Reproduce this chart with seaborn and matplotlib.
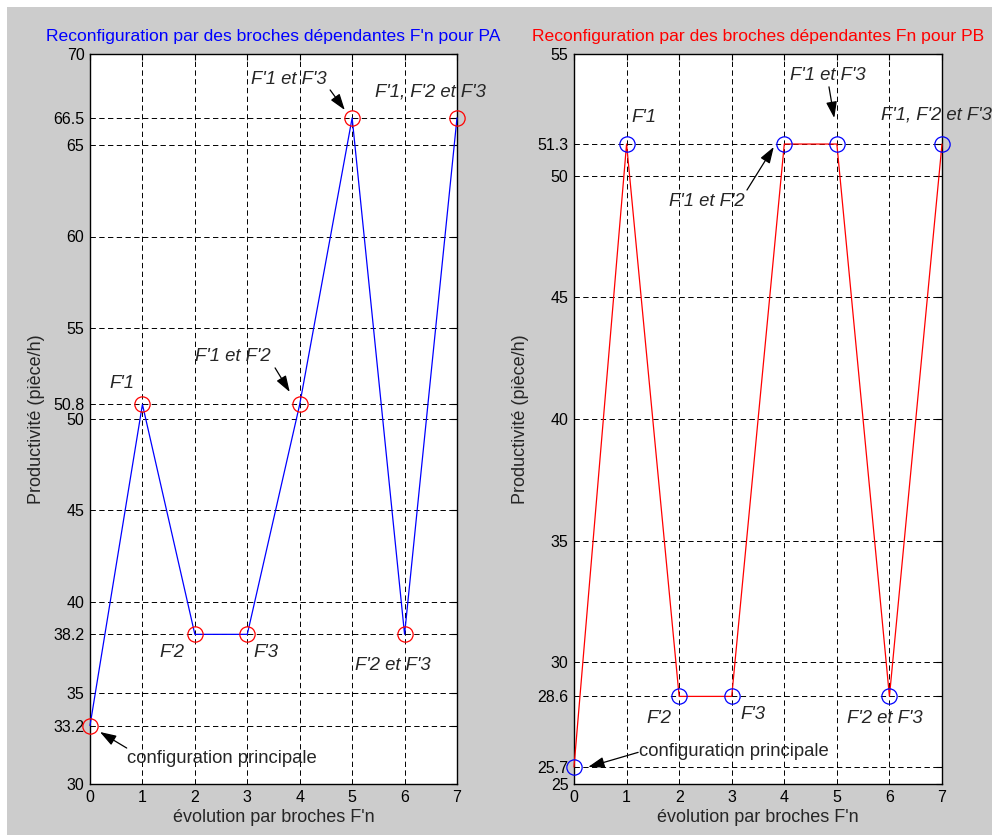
import matplotlib
matplotlib.use("Agg")
import matplotlib.pyplot as plt
import matplotlib.patches as mpatches
import seaborn as sns
import pandas as pd
import numpy as np

# ---- data ----
steps = [0, 1, 2, 3, 4, 5, 6, 7]
prod_pa = [33.2, 50.8, 38.2, 38.2, 50.8, 66.5, 38.2, 66.5]
prod_pb = [25.7, 51.3, 28.6, 28.6, 51.3, 51.3, 28.6, 51.3]
yticks_pa = [30, 33.2, 35, 38.2, 40, 45, 50, 50.8, 55, 60, 65, 66.5, 70]
yticks_pb = [25, 25.7, 28.6, 30, 35, 40, 45, 50, 51.3, 55]
xticks = [0, 1, 2, 3, 4, 5, 6, 7]
title_pa = "Reconfiguration par des broches dépendantes F'n pour PA"
title_pb = "Reconfiguration par des broches dépendantes Fn pour PB"
xlabel = "évolution par broches F'n"
ylabel = "Productivité (pièce/h)"

# annotations: (text, text_xy, arrow_tail, arrow_head)
ann_pa = [
    ("F'1", (0.61, 51.97), None, None),
    ("F'1 et F'2", (2.73, 53.4), (3.53, 52.8), (3.81, 51.48)),
    ("F'1 et F'3", (3.80, 68.6), (4.58, 68.03), (4.86, 66.93)),
    ("F'1, F'2 et F'3", (6.49, 67.92), None, None),
    ("F'2", (1.56, 37.23), None, None),
    ("F'3", (3.36, 37.23), None, None),
    ("F'2 et F'3", (5.78, 36.52), None, None),
]
ann_pb = [
    ("F'1", (1.33, 52.37), None, None),
    ("F'1 et F'3", (4.83, 54.1), (4.85, 53.65), (4.95, 52.37)),
    ("F'1, F'2 et F'3", (6.89, 52.5), None, None),
    ("F'1 et F'2", (2.53, 48.92), (3.29, 49.41), (3.80, 51.18)),
    ("F'2", (1.62, 27.71), None, None),
    ("F'3", (3.40, 27.84), None, None),
    ("F'2 et F'3", (5.92, 27.71), None, None),
]
conf_pa = ("configuration principale", (2.52, 31.37), (0.70, 31.97), (0.19, 32.85))
conf_pb = ("configuration principale", (3.04, 26.32), (1.22, 26.3), (0.27, 25.7))

sns.set_theme(style="white")
plt.rcParams['font.family'] = ['Liberation Sans', 'DejaVu Sans']
plt.rcParams['font.size'] = 11

fig = plt.figure(figsize=(9.92, 8.35), dpi=100, facecolor='#cccccc')
fig.add_artist(mpatches.Rectangle((0, 1 - 7 / 835), 1, 7 / 835, transform=fig.transFigure,
                                  facecolor='white', edgecolor='none', zorder=-10))
fig.add_artist(mpatches.Rectangle((0, 0), 7 / 992, 1, transform=fig.transFigure,
                                  facecolor='white', edgecolor='none', zorder=-10))

ax1 = fig.add_axes([90 / 992, 51 / 835, 367 / 992, 730 / 835])
ax2 = fig.add_axes([574 / 992, 51 / 835, 368 / 992, 730 / 835])

ARROW = dict(arrowstyle='-|>,head_length=0.9,head_width=0.3',
             color='black', lw=0.9, shrinkA=0, shrinkB=0)


def draw(ax, vals, line_c, mark_c, yticks, ylim, title, title_c, anns, conf):
    df = pd.DataFrame({"x": steps, "y": vals})
    sns.lineplot(data=df, x="x", y="y", ax=ax, color=line_c, linewidth=0.9,
                 marker='o', markersize=11, markerfacecolor='none',
                 markeredgecolor=mark_c, markeredgewidth=0.9, zorder=3, clip_on=False)
    ax.set_xlim(0, 7)
    ax.set_ylim(*ylim)
    ax.set_xticks(xticks)
    ax.set_yticks(yticks)
    ax.set_yticklabels([("%g" % t) for t in yticks])
    ax.grid(True, color='black', linestyle=(0, (5.5, 3.5)), linewidth=0.7)
    ax.set_axisbelow(True)
    ax.tick_params(direction='in', top=True, right=True, length=4, width=0.8,
                   labelsize=11.5, colors='black', pad=4)
    for s in ax.spines.values():
        s.set_color('black')
        s.set_linewidth(1.0)
    ax.set_facecolor('white')
    ax.set_title(title, color=title_c, fontsize=12.6, pad=9)
    ax.set_xlabel(xlabel, fontsize=13, labelpad=3)
    ax.set_ylabel(ylabel, fontsize=13, labelpad=6)
    for txt, xy, tail, head in anns:
        ax.text(xy[0], xy[1], txt, style='italic', fontsize=13.3, ha='center', va='center',
                zorder=4, clip_on=False)
        if tail is not None:
            ax.annotate("", xy=head, xytext=tail, arrowprops=ARROW)
    txt, xy, tail, head = conf
    ax.text(xy[0], xy[1], txt, fontsize=13.3, ha='center', va='center', zorder=4)
    ax.annotate("", xy=head, xytext=tail, arrowprops=ARROW)


draw(ax1, prod_pa, 'blue', 'red', yticks_pa, (30, 70), title_pa, 'blue', ann_pa, conf_pa)
draw(ax2, prod_pb, 'red', 'blue', yticks_pb, (25, 55), title_pb, 'red', ann_pb, conf_pb)

fig.savefig("out.png", dpi=100, facecolor=fig.get_facecolor())
